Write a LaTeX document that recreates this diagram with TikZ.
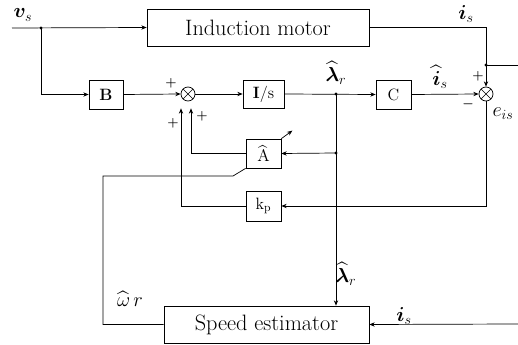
\documentclass[tikz,border=0pt]{standalone}
\usepackage{amsmath}
\usepackage{amssymb}
\usepackage{bm}
\usepackage{tikz}
\usetikzlibrary{arrows.meta, positioning, calc}

\tikzset{
  khoi/.style={draw, line width=0.6pt, inner sep=0pt, minimum width=1.05cm, minimum height=0.87cm, font=\fontsize{14}{16}\selectfont},
  khoilon/.style={draw, line width=0.6pt, inner sep=0pt, minimum height=1.11cm, font=\fontsize{19}{21}\selectfont},
  tong/.style={draw, circle, line width=0.6pt, minimum size=0.42cm, inner sep=0pt,
    path picture={\draw[line width=0.5pt] (path picture bounding box.north west) -- (path picture bounding box.south east)
      (path picture bounding box.north east) -- (path picture bounding box.south west);}},
  muiten/.style={-{Stealth[length=1.6mm,width=1.3mm]}, line width=0.6pt},
  day/.style={line width=0.6pt},
  diem/.style={circle, fill, inner sep=0pt, minimum size=1mm},
  nhan/.style={font=\fontsize{18}{20}\selectfont, inner sep=1pt},
  dau/.style={font=\fontsize{11}{12}\selectfont\bfseries, inner sep=0pt}
}

\begin{document}
\begin{tikzpicture}[x=0.03cm, y=-0.03cm]
        % Khung bao toàn hình
        \useasboundingbox (0,0) rectangle (518,345);

        % Các khối chính
        \node[khoilon, minimum width=6.66cm] (motor) at (258,27.5) {Induction motor};
        \node[khoi, minimum width=1.02cm] (gainB) at (106,94.5) {\textbf{B}};
        \node[tong] (sum1) at (188,94) {};
        \node[khoi, minimum width=1.23cm, minimum height=0.84cm] (integ) at (263.5,94) {\textbf{I}/s};
        \node[khoi] (gainC) at (393.5,94.5) {C};
        \node[tong] (sum2) at (486,94) {};
        \node[khoi] (gainA) at (263.5,153.5) {$\widehat{\mathrm{A}}$};
        \node[khoi, minimum height=0.9cm] (gainKp) at (263.5,206) {k$_{\mathrm{p}}$};
        \node[khoilon, minimum width=6.15cm] (estim) at (266.5,324.5) {Speed estimator};

        % Điểm rẽ nhánh
        \coordinate (vin) at (12,28);
        \node[diem] (j1) at (41,28) {};
        \node[diem] (j2) at (336,94) {};
        \node[diem] (j3) at (336,153) {};
        \node[diem] (j4) at (486,65) {};
        \coordinate (ra) at (518,65);
        \coordinate (vao) at (518,324);

        % Đường tín hiệu thuận
        \draw[muiten] (vin) -- (motor.west);
        \draw[muiten] (j1.center) |- (gainB.west);
        \draw[muiten] (gainB.east) -- (sum1.west);
        \draw[muiten] (sum1.east) -- (integ.west);
        \draw[muiten] (integ.east) -- (gainC.west);
        \draw[muiten] (gainC.east) -- (sum2.west);

        % Dòng i_s và sai số
        \draw[day] (motor.east) -| (j4.center) -- (ra);
        \draw[muiten] (j4.center) -- (sum2.north);
        \draw[muiten] (sum2.south) |- (gainKp.east);
        \draw[muiten] (j3.center) -- (gainA.east);
        \draw[muiten] (j2.center) -- (j2 |- estim.north);
        \draw[muiten] (vao) -- (estim.east);

        % Hồi tiếp về bộ cộng
        \draw[muiten] (gainA.west) -| ($(sum1.south)+(3,7)$);
        \draw[muiten] (gainKp.west) -| ($(sum1.south)+(-7,7)$);
        \draw[muiten] (gainA.north east) -- ++(11,-8);

        % Tốc độ ước lượng
        \draw[day] (estim.west) -| (103,176) -- (233,176) -- (gainA.south west);

        % Nhãn tín hiệu
        \node[nhan] (lvs) at (23,15) {$\bm{v}_s$};
        \node[nhan] (lis) at (466,14) {$\bm{i}_s$};
        \node[nhan] (llr) at (336,73) {$\widehat{\bm{\lambda}}_r$};
        \node[nhan] (lish) at (440,77) {$\widehat{\bm{i}}_s$};
        \node[nhan] (leis) at (503,114) {$e_{is}$};
        \node[nhan] (llr2) at (346,274) {$\widehat{\bm{\lambda}}_r$};
        \node[nhan] (lis2) at (404,316) {$\bm{i}_s$};
        \node[nhan] (lwr) at (130,299) {$\widehat{\omega}\,r$};

        % Dấu cộng trừ
        \node[dau] (p1) at (171,83) {+};
        \node[dau] (p2) at (173,123) {+};
        \node[dau] (p3) at (202,116) {+};
        \node[dau] (p4) at (478,76) {+};
        \node[dau] (m1) at (468,104) {$\boldsymbol{-}$};
    \end{tikzpicture}
\end{document}
